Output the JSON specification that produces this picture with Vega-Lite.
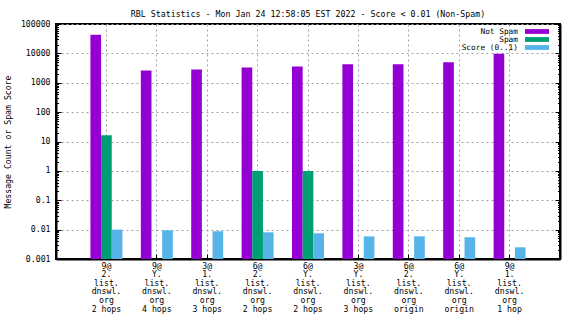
{
  "$schema": "https://vega.github.io/schema/vega-lite/v6.json",
  "autosize": {"type": "none"},
  "width": 504,
  "height": 235,
  "padding": {"left": 56, "top": 24, "right": 16, "bottom": 65},
  "background": "white",
  "config": {
    "font": "DejaVu Sans Mono",
    "view": {"stroke": "black", "strokeWidth": 2},
    "axis": {"labelFont": "DejaVu Sans Mono", "titleFont": "DejaVu Sans Mono", "labelFontSize": 8.2, "titleFontSize": 8.2, "labelColor": "black", "titleColor": "black", "titleFontWeight": "normal", "domainColor": "black", "domainWidth": 2, "tickColor": "black", "tickWidth": 1, "gridColor": "#a0a0a0", "gridDash": [2, 3], "gridWidth": 1}
  },
  "title": {"text": "RBL Statistics - Mon Jan 24 12:58:05 EST 2022 - Score < 0.01 (Non-Spam)", "font": "DejaVu Sans Mono", "fontSize": 8.3, "fontWeight": "normal", "color": "black", "anchor": "middle", "offset": 1},
  "data": {"values": [
    {"host": "9@|2.|list.|dnswl.|org|2 hops", "series": "Not Spam", "value": 43200},
    {"host": "9@|2.|list.|dnswl.|org|2 hops", "series": "Spam", "value": 16.4},
    {"host": "9@|2.|list.|dnswl.|org|2 hops", "series": "Score (0..1)", "value": 0.0100},
    {"host": "9@|Y.|list.|dnswl.|org|4 hops", "series": "Not Spam", "value": 2620},
    {"host": "9@|Y.|list.|dnswl.|org|4 hops", "series": "Score (0..1)", "value": 0.0095},
    {"host": "3@|1.|list.|dnswl.|org|3 hops", "series": "Not Spam", "value": 2830},
    {"host": "3@|1.|list.|dnswl.|org|3 hops", "series": "Score (0..1)", "value": 0.0088},
    {"host": "6@|2.|list.|dnswl.|org|2 hops", "series": "Not Spam", "value": 3310},
    {"host": "6@|2.|list.|dnswl.|org|2 hops", "series": "Spam", "value": 1},
    {"host": "6@|2.|list.|dnswl.|org|2 hops", "series": "Score (0..1)", "value": 0.0081},
    {"host": "6@|Y.|list.|dnswl.|org|2 hops", "series": "Not Spam", "value": 3580},
    {"host": "6@|Y.|list.|dnswl.|org|2 hops", "series": "Spam", "value": 1},
    {"host": "6@|Y.|list.|dnswl.|org|2 hops", "series": "Score (0..1)", "value": 0.0075},
    {"host": "3@|Y.|list.|dnswl.|org|3 hops", "series": "Not Spam", "value": 4290},
    {"host": "3@|Y.|list.|dnswl.|org|3 hops", "series": "Score (0..1)", "value": 0.0059},
    {"host": "6@|2.|list.|dnswl.|org|origin", "series": "Not Spam", "value": 4290},
    {"host": "6@|2.|list.|dnswl.|org|origin", "series": "Score (0..1)", "value": 0.0059},
    {"host": "6@|Y.|list.|dnswl.|org|origin", "series": "Not Spam", "value": 5020},
    {"host": "6@|Y.|list.|dnswl.|org|origin", "series": "Score (0..1)", "value": 0.0055},
    {"host": "9@|1.|list.|dnswl.|org|1 hop", "series": "Not Spam", "value": 9700},
    {"host": "9@|1.|list.|dnswl.|org|1 hop", "series": "Score (0..1)", "value": 0.0025}
  ]},
  "layer": [
    {
      "mark": {"type": "bar"},
      "encoding": {
        "x": {"field": "host", "type": "nominal", "sort": null,
          "scale": {"type": "band", "paddingInner": 0.365, "paddingOuter": 0.683},
          "axis": {"title": null, "labelAngle": 0, "labelExpr": "split(datum.label, '|')", "labelLineHeight": 8.6, "labelBaseline": "top", "labelPadding": 8, "labelOverlap": false, "tickSize": -5, "bandPosition": 0.5, "grid": true}},
        "xOffset": {"field": "series", "type": "nominal", "scale": {"domain": ["Not Spam", "Spam", "Score (0..1)"], "paddingInner": 0, "paddingOuter": 0}},
        "y": {"field": "value", "type": "quantitative",
          "scale": {"type": "log", "domain": [0.001, 100000], "nice": false},
          "axis": {"title": "Message Count or Spam Score", "titlePadding": 8, "labelOverlap": false, "labelPadding": 11,
            "values": [0.001,0.002,0.003,0.004,0.005,0.006,0.007,0.008,0.009,0.01,0.02,0.03,0.04,0.05,0.06,0.07,0.08,0.09,0.1,0.2,0.3,0.4,0.5,0.6,0.7,0.8,0.9,1,2,3,4,5,6,7,8,9,10,20,30,40,50,60,70,80,90,100,200,300,400,500,600,700,800,900,1000,2000,3000,4000,5000,6000,7000,8000,9000,10000,20000,30000,40000,50000,60000,70000,80000,90000,100000],
            "labelExpr": "abs(log(datum.value)/LN10 - round(log(datum.value)/LN10)) < 1e-6 ? format(datum.value, '~g') : ''",
            "tickSize": {"condition": {"test": "abs(log(datum.value)/LN10 - round(log(datum.value)/LN10)) < 1e-6", "value": -5}, "value": -2.5},
            "gridOpacity": {"condition": {"test": "abs(log(datum.value)/LN10 - round(log(datum.value)/LN10)) < 1e-6", "value": 1}, "value": 0}}},
        "y2": {"datum": 0.001},
        "color": {"field": "series", "type": "nominal",
          "scale": {"domain": ["Not Spam", "Spam", "Score (0..1)"], "range": ["#9400d3", "#009e73", "#56b4e9"]},
          "legend": {"title": null, "orient": "none", "legendX": 477, "legendY": 3.5, "symbolType": "M-3,-0.6H3V0.6H-3Z", "symbolSize": 64, "symbolStrokeWidth": 0, "symbolOpacity": 1, "labelAlign": "right", "labelOffset": -23, "labelFont": "DejaVu Sans Mono", "labelFontSize": 7.8, "labelColor": "black", "rowPadding": -0.3, "padding": 0}}
      }
    },
    {
      "mark": {"type": "point", "opacity": 0},
      "encoding": {
        "y": {"field": "value", "type": "quantitative",
          "axis": {"orient": "right", "title": null, "labels": false, "grid": false,
            "values": [0.001,0.002,0.003,0.004,0.005,0.006,0.007,0.008,0.009,0.01,0.02,0.03,0.04,0.05,0.06,0.07,0.08,0.09,0.1,0.2,0.3,0.4,0.5,0.6,0.7,0.8,0.9,1,2,3,4,5,6,7,8,9,10,20,30,40,50,60,70,80,90,100,200,300,400,500,600,700,800,900,1000,2000,3000,4000,5000,6000,7000,8000,9000,10000,20000,30000,40000,50000,60000,70000,80000,90000,100000],
            "tickSize": {"condition": {"test": "abs(log(datum.value)/LN10 - round(log(datum.value)/LN10)) < 1e-6", "value": -5}, "value": -2.5}}}
      }
    }
  ],
  "resolve": {"axis": {"y": "independent"}}
}
